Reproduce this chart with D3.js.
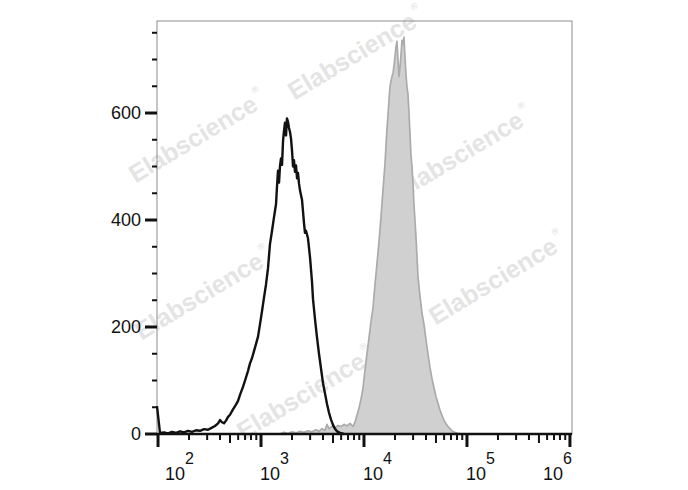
<!DOCTYPE html>
<html>
<head>
<meta charset="utf-8">
<script src="https://cdnjs.cloudflare.com/ajax/libs/d3/7.8.5/d3.min.js"></script>
<style>
html,body{margin:0;padding:0;background:#fff;}
svg{display:block;}
</style>
</head>
<body>
<svg id="chart" width="688" height="490"></svg>
<script>
// ---- data: log10 fluorescence channel and event count ----
const blackLog = [1.990,2.019,2.058,2.097,2.136,2.175,2.214,2.252,2.291,2.330,2.369,2.408,2.447,2.485,2.524,2.553,2.583,2.602,2.621,2.641,2.660,2.680,2.699,2.728,2.757,2.777,2.796,2.825,2.845,2.874,2.893,2.913,2.932,2.951,2.971,2.990,3.010,3.029,3.049,3.068,3.087,3.107,3.126,3.146,3.155,3.165,3.175,3.184,3.194,3.204,3.214,3.223,3.233,3.243,3.252,3.262,3.272,3.282,3.291,3.301,3.311,3.320,3.330,3.340,3.350,3.359,3.369,3.379,3.398,3.417,3.427,3.437,3.456,3.476,3.495,3.505,3.524,3.544,3.563,3.583,3.602,3.621,3.641,3.660,3.680,3.699,3.718,3.738,3.767,3.806];
const blackCount = [52,2,3,1,4,2,5,3,6,4,7,6,9,8,12,15,20,26,22,20,25,32,36,46,55,62,73,88,100,118,132,142,155,168,182,205,230,255,280,310,355,380,405,430,462,492,470,500,515,503,548,566,582,558,590,584,572,564,553,530,500,512,490,502,478,488,468,455,438,395,376,380,366,330,285,252,215,180,150,122,95,76,56,40,27,17,10,5,2,0];

const grayLog = [3.184,3.223,3.262,3.301,3.340,3.379,3.417,3.456,3.495,3.534,3.563,3.592,3.621,3.641,3.660,3.689,3.718,3.748,3.777,3.806,3.835,3.864,3.893,3.913,3.932,3.951,3.971,3.990,4.010,4.029,4.049,4.068,4.087,4.107,4.126,4.146,4.165,4.184,4.204,4.214,4.223,4.233,4.243,4.252,4.262,4.272,4.282,4.291,4.301,4.311,4.320,4.330,4.340,4.350,4.359,4.369,4.379,4.388,4.398,4.408,4.417,4.427,4.437,4.447,4.456,4.466,4.476,4.485,4.495,4.505,4.515,4.524,4.544,4.563,4.583,4.602,4.621,4.641,4.660,4.680,4.699,4.718,4.738,4.757,4.777,4.796,4.816,4.835,4.854,4.883,4.913,4.951];
const grayCount = [0,3,1,4,2,5,3,6,4,8,5,10,7,18,10,14,11,16,14,18,15,20,14,22,35,48,65,85,120,150,180,210,235,280,318,360,405,455,505,540,570,595,625,648,660,668,675,688,705,724,734,700,668,686,708,736,728,742,705,672,650,636,600,560,522,500,468,430,400,368,330,295,258,226,205,176,150,124,104,86,70,58,45,35,26,19,14,10,6,3,1,0];

const yTickMajor = [0,200,400,600];
const yTickLabels = ["0","200","400","600"];
const xTickMajor = [1e2,1e3,1e4,1e5,1e6];
const xTickExp = ["2","3","4","5","6"];
const watermarkText = "Elabscience";

// ---- layout ----
const L = 157, R = 572, T = 21, B = 434;
const svg = d3.select("#chart");

const x = d3.scaleLog().domain([Math.pow(10,1.99), Math.pow(10,6.02)]).range([L, R]);
const y = d3.scaleLinear().domain([0, 772]).range([B, T]);

// ---- watermarks ----
const wmPos = [[356,53],[197,136],[463,152],[203,293],[497,278],[305,393]];
const wm = svg.append("g");
wmPos.forEach(p => {
  const t = wm.append("text")
    .attr("transform", `translate(${p[0]},${p[1]}) rotate(-31)`)
    .attr("text-anchor","middle")
    .attr("dominant-baseline","central")
    .attr("font-family","Liberation Sans, Arial, sans-serif")
    .attr("font-weight","bold")
    .attr("font-size",25)
    .attr("fill","#e4e4e4");
  t.append("tspan").text(watermarkText);
  t.append("tspan").attr("font-size",9).attr("dy",-10).attr("dx",3).text("®");
});

// ---- frame ----
svg.append("rect").attr("x",L).attr("y",T).attr("width",R-L).attr("height",B-T)
  .attr("fill","none").attr("stroke","#8c8c8c").attr("stroke-width",1);

// ---- histograms ----
const grayData = grayLog.map((v,i)=>({v:Math.pow(10,v), c:grayCount[i]}));
const blackData = blackLog.map((v,i)=>({v:Math.pow(10,v), c:blackCount[i]}));

svg.append("path").datum(grayData)
  .attr("d", d3.area().x(d=>x(d.v)).y0(y(0)).y1(d=>y(d.c)))
  .attr("fill","#d0d0d0").attr("stroke","#ababab").attr("stroke-width",1.7)
  .attr("stroke-linejoin","round");

svg.append("path").datum(blackData)
  .attr("d", d3.line().x(d=>x(d.v)).y(d=>y(d.c)))
  .attr("fill","none").attr("stroke","#111").attr("stroke-width",2.4)
  .attr("stroke-linejoin","round");

// ---- y axis ticks ----
const yMinor = d3.range(50, 800, 50).filter(v => v % 200 !== 0);
svg.append("g").selectAll("line").data(yMinor).join("line")
  .attr("x1",L-5).attr("x2",L).attr("y1",d=>y(d)).attr("y2",d=>y(d))
  .attr("stroke","#111").attr("stroke-width",2);
svg.append("g").selectAll("line").data(yTickMajor).join("line")
  .attr("x1",L-12).attr("x2",L).attr("y1",d=>y(d)).attr("y2",d=>y(d))
  .attr("stroke","#111").attr("stroke-width",3);
svg.append("g").selectAll("text").data(yTickMajor).join("text")
  .attr("x",L-16).attr("y",d=>y(d)).attr("text-anchor","end")
  .attr("dominant-baseline","central")
  .attr("font-family","Liberation Sans, Arial, sans-serif").attr("font-size",18)
  .attr("fill","#111").text((d,i)=>yTickLabels[i]);

// ---- x axis ----
svg.append("line").attr("x1",L).attr("x2",R).attr("y1",B).attr("y2",B)
  .attr("stroke","#111").attr("stroke-width",2.5);
const xMinor = [];
[1e2,1e3,1e4,1e5].forEach(d => { for (let k=2;k<=9;k++) xMinor.push(d*k); });
svg.append("g").selectAll("line").data(xMinor).join("line")
  .attr("x1",d=>x(d)).attr("x2",d=>x(d)).attr("y1",B)
  .attr("y2",d=> (Math.round(d/Math.pow(10,Math.floor(Math.log10(d)+1e-9)))===5) ? B+9 : B+6)
  .attr("stroke","#111").attr("stroke-width",2);
svg.append("g").selectAll("line").data(xTickMajor).join("line")
  .attr("x1",d=>x(d)).attr("x2",d=>x(d)).attr("y1",B).attr("y2",B+13)
  .attr("stroke","#111").attr("stroke-width",3);

xTickMajor.forEach((d,i) => {
  const t = svg.append("text")
    .attr("y",480)
    .attr("font-family","Liberation Sans, Arial, sans-serif")
    .attr("fill","#111");
  t.append("tspan").attr("font-size",18).text("10");
  t.append("tspan").attr("font-size",16).attr("dy",-16).text(xTickExp[i]);
  const w = t.node().getComputedTextLength();
  let px = x(d) - 1;
  px = Math.max(px, L + 8);
  px = Math.min(px, R - w);
  t.attr("x", px);
});
</script>
</body>
</html>
